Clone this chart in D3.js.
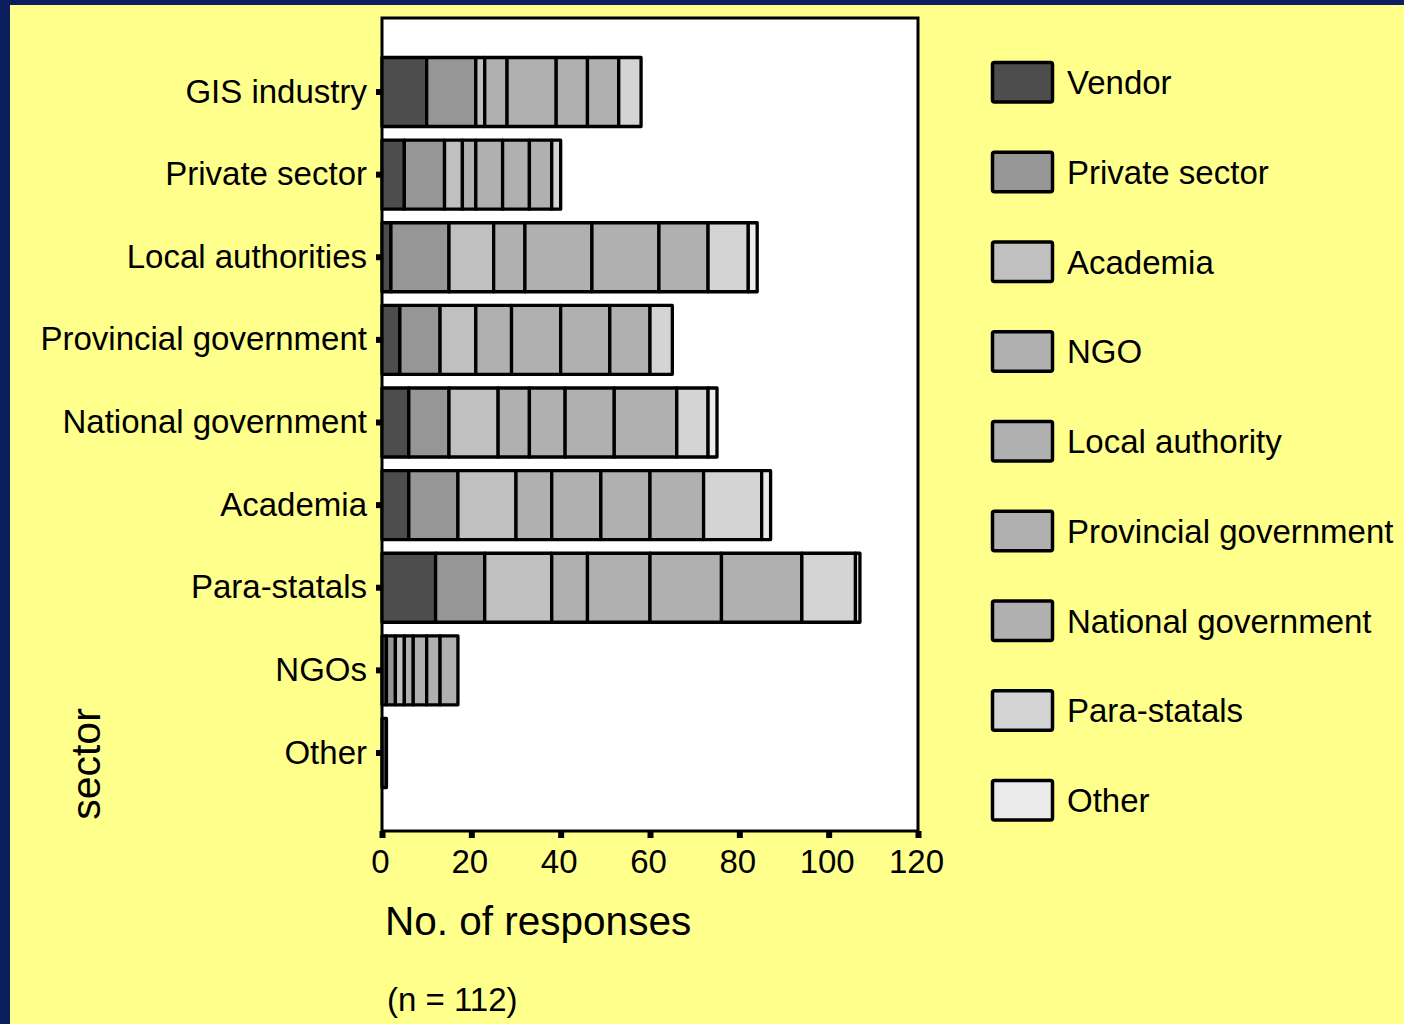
<!DOCTYPE html>
<html>
<head>
<meta charset="utf-8">
<script src="https://cdn.jsdelivr.net/npm/d3@7"></script>
<style>
  html, body { margin: 0; padding: 0; background: #0b1f5e; }
  svg { display: block; }
  text { font-family: "Liberation Sans", Arial, sans-serif; fill: #000; }
</style>
</head>
<body>
<svg id="chart" width="1404" height="1024"></svg>
<script>
// ---- data ----
const sectors = ["GIS industry", "Private sector", "Local authorities", "Provincial government",
  "National government", "Academia", "Para-statals", "NGOs", "Other"];
const seriesNames = ["Vendor", "Private sector", "Academia", "NGO", "Local authority",
  "Provincial government", "National government", "Para-statals", "Other"];
// values per series, in the order of `sectors`
const vendor      = [10, 5, 2, 4, 6, 6, 12, 1, 1];
const privateSec  = [11, 9, 13, 9, 9, 11, 11, 2, 0];
const academia    = [2, 4, 10, 8, 11, 13, 15, 2, 0];
const ngo         = [5, 3, 7, 8, 7, 8, 8, 2, 0];
const localAuth   = [11, 6, 15, 11, 8, 11, 14, 3, 0];
const provincial  = [7, 6, 15, 11, 11, 11, 16, 3, 0];
const national    = [7, 5, 11, 9, 14, 12, 18, 4, 0];
const paraStatals = [5, 2, 9, 5, 7, 13, 12, 0, 0];
const other       = [0, 0, 2, 0, 2, 2, 1, 0, 0];
const xTicks = [0, 20, 40, 60, 80, 100, 120];
const xTitle = "No. of responses";
const yTitle = "sector";
const note = "(n = 112)";

const seriesValues = [vendor, privateSec, academia, ngo, localAuth, provincial, national, paraStatals, other];
const seriesColors = ["#4d4d4d", "#969696", "#c0c0c0", "#b0b0b0", "#b0b0b0", "#b0b0b0", "#b0b0b0", "#d4d4d4", "#ebebeb"];

// table for the stack
const table = sectors.map((s, i) => {
  const row = { sector: s };
  seriesNames.forEach((n, k) => { row[n] = seriesValues[k][i]; });
  return row;
});

const svg = d3.select("#chart");
// background
svg.append("rect").attr("x", 0).attr("y", 0).attr("width", 1404).attr("height", 1024).attr("fill", "#0b1f5e");
svg.append("rect").attr("x", 10).attr("y", 5).attr("width", 1394).attr("height", 1019).attr("fill", "#ffff8c");

const plot = { left: 382, right: 918, top: 18, bottom: 831 };
const x = d3.scaleLinear().domain([0, 120]).range([plot.left, plot.right]);
const y = d3.scaleBand().domain(sectors).range([50.7, 794.3]).paddingInner(0.165).paddingOuter(0.0825);
const color = d3.scaleOrdinal().domain(seriesNames).range(seriesColors);

// plot frame
svg.append("rect")
  .attr("x", plot.left).attr("y", plot.top)
  .attr("width", plot.right - plot.left).attr("height", plot.bottom - plot.top)
  .attr("fill", "#ffffff").attr("stroke", "#000").attr("stroke-width", 3);

const stacked = d3.stack().keys(seriesNames)(table);

const g = svg.append("g");
stacked.forEach(layer => {
  g.append("g")
    .attr("fill", color(layer.key))
    .selectAll("rect")
    .data(layer.filter(d => d[1] - d[0] > 0))
    .join("rect")
    .attr("x", d => x(d[0]))
    .attr("y", d => y(d.data.sector))
    .attr("width", d => x(d[1]) - x(d[0]))
    .attr("height", y.bandwidth())
    .attr("stroke", "#000")
    .attr("stroke-width", 3.3)
    .attr("stroke-linejoin", "round");
});

// x axis
const xAxis = svg.append("g")
  .attr("transform", `translate(0,${plot.bottom})`)
  .call(d3.axisBottom(x).tickValues(xTicks).tickSize(7).tickPadding(12).tickFormat(d3.format("d")));
xAxis.select(".domain").remove();
xAxis.selectAll(".tick line").attr("stroke", "#000").attr("stroke-width", 6);
xAxis.selectAll(".tick text").attr("font-size", 33).attr("font-family", "Liberation Sans, Arial, sans-serif").attr("dx", -2);

// y axis
const yAxis = svg.append("g")
  .attr("transform", `translate(${plot.left},0)`)
  .call(d3.axisLeft(y).tickSize(6).tickPadding(9));
yAxis.select(".domain").remove();
yAxis.selectAll(".tick line").attr("stroke", "#000").attr("stroke-width", 6);
yAxis.selectAll(".tick text").attr("font-size", 33).attr("font-family", "Liberation Sans, Arial, sans-serif");

// titles
svg.append("text").attr("x", 385).attr("y", 935).attr("font-size", 40.5).text(xTitle);
svg.append("text").attr("x", 387).attr("y", 1011).attr("font-size", 33).text(note);
svg.append("text")
  .attr("transform", "translate(100,764) rotate(-90)")
  .attr("text-anchor", "middle").attr("font-size", 41).text(yTitle);

// legend
const legendY = d3.scalePoint().domain(seriesNames).range([82, 800]);
const lg = svg.append("g");
const items = lg.selectAll("g").data(seriesNames).join("g")
  .attr("transform", d => `translate(991,${legendY(d)})`);
items.append("rect")
  .attr("x", 1.5).attr("y", -19.5).attr("width", 60).attr("height", 39.5)
  .attr("rx", 2)
  .attr("fill", d => color(d)).attr("stroke", "#000").attr("stroke-width", 3.5);
items.append("text")
  .attr("x", 76).attr("y", 12).attr("font-size", 33)
  .text(d => d);
</script>
</body>
</html>
